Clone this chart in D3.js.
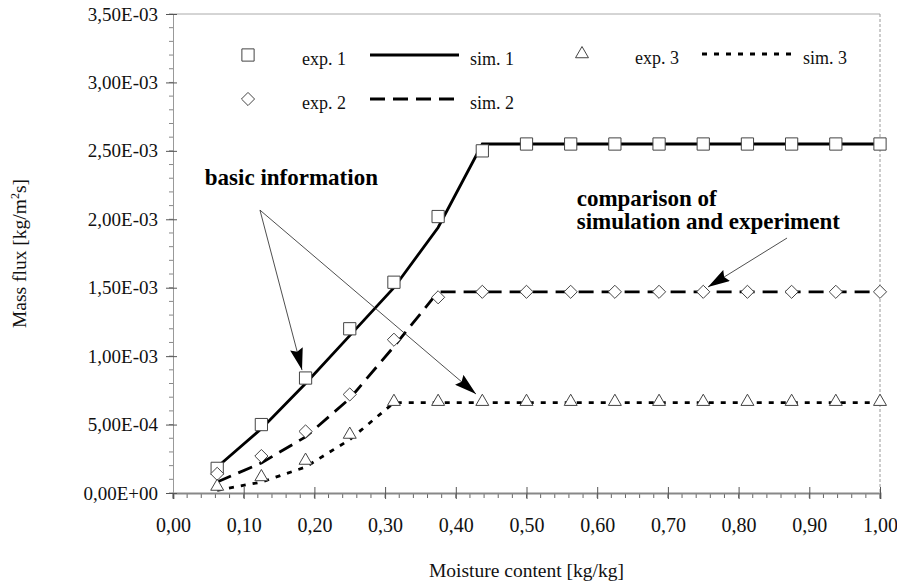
<!DOCTYPE html>
<html lang="en">
<head>
<meta charset="UTF-8">
<title>Mass flux vs moisture content</title>
<script src="https://cdnjs.cloudflare.com/ajax/libs/d3/7.8.5/d3.min.js"></script>
<style>
    body { margin: 0; background: #fff; }
    svg text { font-family: "Liberation Serif", "DejaVu Serif", Times, serif; }
    .x-label { font-size: 20px; fill: #111; }
    .y-label { font-size: 19px; fill: #111; }
    .axis-title { font-size: 19.5px; fill: #111; }
    .legend-text { font-size: 18px; fill: #111; }
    .note { font-size: 23px; font-weight: bold; fill: #000; }
</style>
</head>
<body>
<div id="chart"></div>
<script>
// moisture content [kg/kg]
const moisture = [0.0625, 0.125, 0.1875, 0.25, 0.3125, 0.375, 0.4375, 0.5,
    0.5625, 0.625, 0.6875, 0.75, 0.8125, 0.875, 0.9375, 1.0];

// measured mass flux [kg/m2s]
const exp1 = [0.00018, 0.00050, 0.00084, 0.00120, 0.00154, 0.00202, 0.00250, 0.00255,
    0.00255, 0.00255, 0.00255, 0.00255, 0.00255, 0.00255, 0.00255, 0.00255];
const exp2 = [0.00014, 0.00027, 0.00045, 0.00072, 0.00112, 0.00143, 0.00147, 0.00147,
    0.00147, 0.00147, 0.00147, 0.00147, 0.00147, 0.00147, 0.00147, 0.00147];
const exp3 = [0.00004, 0.00011, 0.00023, 0.00042, 0.00066, 0.00066, 0.00066, 0.00066,
    0.00066, 0.00066, 0.00066, 0.00066, 0.00066, 0.00066, 0.00066, 0.00066];

// simulated mass flux [kg/m2s]
const sim1 = [0.00019, 0.00047, 0.00080, 0.00115, 0.00150, 0.00194, 0.00255, 0.00255,
    0.00255, 0.00255, 0.00255, 0.00255, 0.00255, 0.00255, 0.00255, 0.00255];
const sim2 = [0.00008, 0.00022, 0.00041, 0.00069, 0.00107, 0.00147, 0.00147, 0.00147,
    0.00147, 0.00147, 0.00147, 0.00147, 0.00147, 0.00147, 0.00147, 0.00147];
const sim3 = [0.00002, 0.00008, 0.00019, 0.00039, 0.00066, 0.00066, 0.00066, 0.00066,
    0.00066, 0.00066, 0.00066, 0.00066, 0.00066, 0.00066, 0.00066, 0.00066];

// axis ticks
const xTicks = [0, 0.1, 0.2, 0.3, 0.4, 0.5, 0.6, 0.7, 0.8, 0.9, 1.0];
const xTickLabels = ["0,00", "0,10", "0,20", "0,30", "0,40", "0,50", "0,60", "0,70", "0,80", "0,90", "1,00"];
const yTicks = [0, 0.0005, 0.001, 0.0015, 0.002, 0.0025, 0.003, 0.0035];
const yTickLabels = ["0,00E+00", "5,00E-04", "1,00E-03", "1,50E-03", "2,00E-03", "2,50E-03", "3,00E-03", "3,50E-03"];

const width = 897, height = 588;
const margin = { top: 14, right: 17, bottom: 95, left: 173 };

const svg = d3.select("#chart").append("svg")
    .attr("width", width)
    .attr("height", height);

const x = d3.scaleLinear().domain([0, 1]).range([margin.left, width - margin.right]);
const y = d3.scaleLinear().domain([0, 0.0035]).range([height - margin.bottom, margin.top]);

// plot frame: light top line and dotted right line
svg.append("line")
    .attr("x1", x(0)).attr("x2", x(1))
    .attr("y1", y(0.0035)).attr("y2", y(0.0035))
    .attr("stroke", "#aaa").attr("stroke-width", 1);
svg.append("line")
    .attr("x1", x(1)).attr("x2", x(1))
    .attr("y1", y(0.0035)).attr("y2", y(0))
    .attr("stroke", "#999").attr("stroke-width", 1)
    .attr("stroke-dasharray", "3,2");

// minor ticks
const xMinor = d3.range(0, 1.0001, 0.02);
svg.append("g").selectAll("line").data(xMinor).join("line")
    .attr("x1", d => x(d)).attr("x2", d => x(d))
    .attr("y1", y(0)).attr("y2", y(0) + 5)
    .attr("stroke", "#666");
const yMinor = d3.range(0, 0.00350001, 0.0001);
svg.append("g").selectAll("line").data(yMinor).join("line")
    .attr("x1", x(0) - 4).attr("x2", x(0))
    .attr("y1", d => y(d)).attr("y2", d => y(d))
    .attr("stroke", "#888");

// x axis
const xAxis = d3.axisBottom(x)
    .tickValues(xTicks)
    .tickFormat((d, i) => xTickLabels[i])
    .tickSize(6)
    .tickPadding(19);
const gx = svg.append("g")
    .attr("transform", `translate(0,${y(0)})`)
    .call(xAxis)
    .attr("font-size", null).attr("font-family", null);
gx.select(".domain").attr("stroke", "#888").attr("stroke-width", 2);
gx.selectAll(".tick line").attr("y1", -6).attr("stroke", "#555");
gx.selectAll(".tick text").attr("class", "x-label");

// y axis
const yAxis = d3.axisLeft(y)
    .tickValues(yTicks)
    .tickFormat((d, i) => yTickLabels[i])
    .tickSize(7)
    .tickPadding(8);
const gy = svg.append("g")
    .attr("transform", `translate(${x(0)},0)`)
    .call(yAxis)
    .attr("font-size", null).attr("font-family", null);
gy.select(".domain").attr("stroke", "#999").attr("stroke-width", 1);
gy.selectAll(".tick line").attr("x2", 4).attr("x1", -7).attr("stroke", "#555");
gy.selectAll(".tick text").attr("class", "y-label");

// axis titles
svg.append("text")
    .attr("class", "axis-title")
    .attr("x", (x(0) + x(1)) / 2)
    .attr("y", 577)
    .attr("text-anchor", "middle")
    .text("Moisture content [kg/kg]");

const yTitle = svg.append("text")
    .attr("class", "axis-title")
    .attr("transform", `translate(26,${(y(0) + y(0.0035)) / 2}) rotate(-90)`)
    .attr("text-anchor", "middle");
yTitle.append("tspan").text("Mass flux [kg/m");
yTitle.append("tspan").attr("dy", -7).attr("font-size", 12).text("2");
yTitle.append("tspan").attr("dy", 7).text("s]");

// simulation lines
const line = d3.line()
    .x((d, i) => x(moisture[i]))
    .y(d => y(d));

const simSeries = [
    { values: sim1, dash: null },
    { values: sim2, dash: "15,8" },
    { values: sim3, dash: "5,7" }
];
svg.append("g").selectAll("path").data(simSeries).join("path")
    .attr("d", d => line(d.values))
    .attr("fill", "none")
    .attr("stroke", "#000")
    .attr("stroke-width", 2.8)
    .attr("stroke-dasharray", d => d.dash);

// experiment markers
const symSquare = d3.symbol().type(d3.symbolSquare).size(150);
const symDiamond = d3.symbol().type(d3.symbolDiamond2).size(110);
const symTriangle = d3.symbol().type(d3.symbolTriangle2).size(120);

const expSeries = [
    { values: exp1, sym: symSquare, dy: 0 },
    { values: exp2, sym: symDiamond, dy: 0 },
    { values: exp3, sym: symTriangle, dy: -1 }
];
expSeries.forEach(s => {
    svg.append("g").selectAll("path").data(s.values).join("path")
        .attr("transform", (d, i) => `translate(${x(moisture[i])},${y(d) + s.dy})`)
        .attr("d", s.sym())
        .attr("fill", "#fff")
        .attr("stroke", "#444")
        .attr("stroke-width", 1);
});

// legend
const legend = svg.append("g");
const legendRows = [
    { sym: symSquare, sx: 248, sy: 55, label: "exp. 1", lx: 302, line: [370, 459], dash: null, sim: "sim. 1", simx: 470 },
    { sym: symDiamond, sx: 248, sy: 99, label: "exp. 2", lx: 302, line: [370, 459], dash: "15,8", sim: "sim. 2", simx: 470 },
    { sym: symTriangle, sx: 582, sy: 54, label: "exp. 3", lx: 635, line: [702, 796], dash: "5,7", sim: "sim. 3", simx: 803 }
];
legendRows.forEach(r => {
    legend.append("path")
        .attr("transform", `translate(${r.sx},${r.sy})`)
        .attr("d", r.sym())
        .attr("fill", "#fff").attr("stroke", "#444");
    legend.append("text").attr("class", "legend-text")
        .attr("x", r.lx).attr("y", r.sy + 10).text(r.label);
    legend.append("line")
        .attr("x1", r.line[0]).attr("x2", r.line[1])
        .attr("y1", r.sy).attr("y2", r.sy)
        .attr("stroke", "#000").attr("stroke-width", 3)
        .attr("stroke-dasharray", r.dash);
    legend.append("text").attr("class", "legend-text")
        .attr("x", r.simx).attr("y", r.sy + 10).text(r.sim);
});

// annotations
const defs = svg.append("defs");
defs.append("marker")
    .attr("id", "head")
    .attr("markerUnits", "userSpaceOnUse")
    .attr("markerWidth", 23).attr("markerHeight", 13)
    .attr("refX", 22).attr("refY", 6.5)
    .attr("orient", "auto")
    .append("path")
    .attr("d", "M0,0 L22,6.5 L0,13 L3,6.5 Z")
    .attr("fill", "#000");

const arrows = [
    { from: [0.123, 0.002067], to: [0.1825, 0.000898] },
    { from: [0.123, 0.002067], to: [0.4286, 0.000723] },
    { from: [0.8685, 0.001863], to: [0.7567, 0.001505] }
];
svg.append("g").selectAll("line").data(arrows).join("line")
    .attr("x1", d => x(d.from[0])).attr("y1", d => y(d.from[1]))
    .attr("x2", d => x(d.to[0])).attr("y2", d => y(d.to[1]))
    .attr("stroke", "#222").attr("stroke-width", 0.8)
    .attr("marker-end", "url(#head)");

svg.append("text").attr("class", "note")
    .attr("x", x(0.045)).attr("y", y(0.00225))
    .text("basic information");
const comp = svg.append("text").attr("class", "note")
    .attr("x", x(0.571)).attr("y", y(0.002096));
comp.append("tspan").attr("x", x(0.571)).text("comparison of");
comp.append("tspan").attr("x", x(0.571)).attr("dy", 23).text("simulation and experiment");
</script>
</body>
</html>
